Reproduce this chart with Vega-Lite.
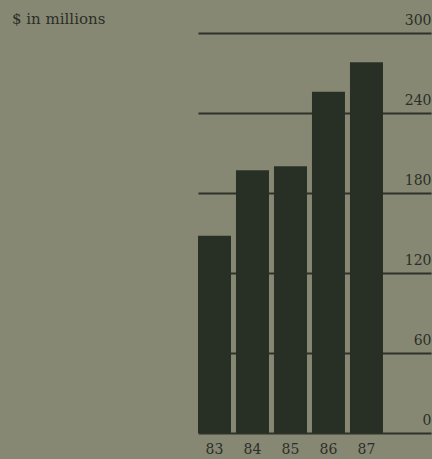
{
  "$schema": "https://vega.github.io/schema/vega-lite/v6.json",
  "autosize": "none",
  "width": 233,
  "height": 400,
  "padding": {"left": 198, "top": 33, "right": 1, "bottom": 26},
  "background": "#878873",
  "config": {"view": {"stroke": null}, "font": "DejaVu Serif"},
  "title": {
    "text": "$ in millions",
    "anchor": "start",
    "frame": "group",
    "dx": -186,
    "dy": 26,
    "baseline": "alphabetic",
    "offset": 0,
    "fontSize": 15,
    "fontWeight": "normal",
    "font": "DejaVu Serif",
    "color": "#2b2f27"
  },
  "data": {
    "values": [
      {"year": "83", "value": 148},
      {"year": "84", "value": 197},
      {"year": "85", "value": 200},
      {"year": "86", "value": 256},
      {"year": "87", "value": 278}
    ]
  },
  "mark": {"type": "bar", "color": "#283026"},
  "encoding": {
    "x": {
      "field": "year",
      "type": "ordinal",
      "scale": {"paddingInner": 0.1316, "paddingOuter": 0.632, "align": 0},
      "axis": {
        "title": null,
        "domain": false,
        "ticks": false,
        "labelAngle": 0,
        "labelPadding": 9,
        "labelFontSize": 14,
        "labelColor": "#2b2f27",
        "labelFont": "DejaVu Serif"
      }
    },
    "y": {
      "field": "value",
      "type": "quantitative",
      "scale": {"domain": [0, 300], "nice": false},
      "axis": {
        "orient": "right",
        "title": null,
        "values": [0, 60, 120, 180, 240, 300],
        "domain": false,
        "ticks": false,
        "labelAlign": "right",
        "labelBaseline": "alphabetic",
        "labelPadding": 0,
        "labelDx": -1,
        "labelOffset": -9,
        "labelFontSize": 14,
        "labelColor": "#2b2f27",
        "labelFont": "DejaVu Serif",
        "grid": true,
        "gridColor": "#2e3329",
        "gridWidth": 1.8,
        "gridOpacity": 1,
        "zindex": 0
      }
    }
  }
}
